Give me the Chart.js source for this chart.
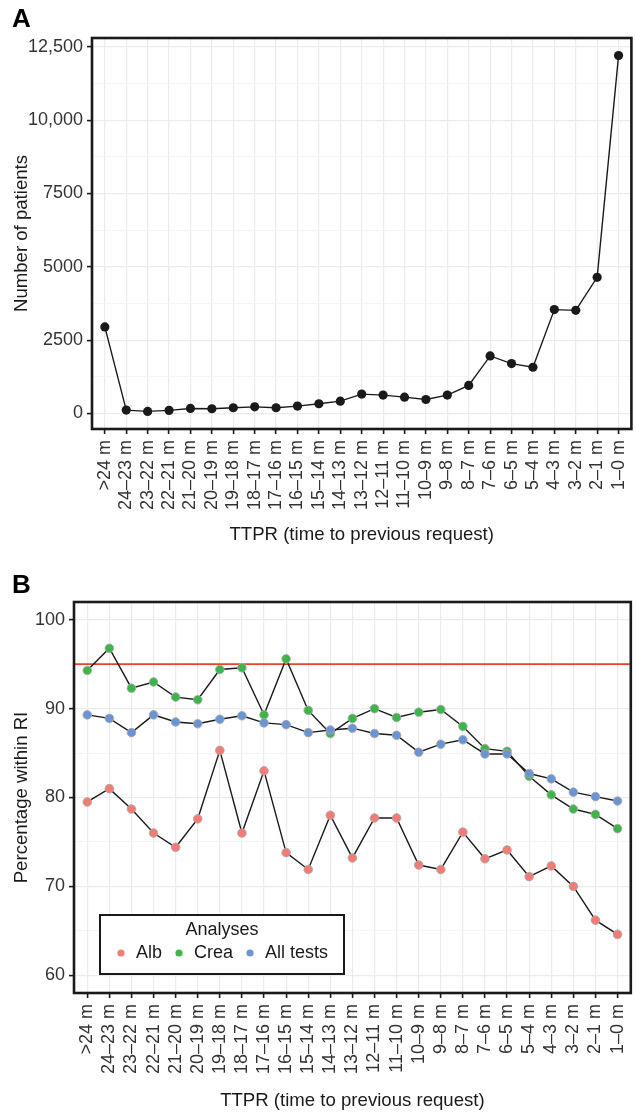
<!DOCTYPE html>
<html>
<head>
<meta charset="utf-8">
<script src="https://cdn.jsdelivr.net/npm/chart.js@4"></script>
<style>
  body { margin: 0; background: #fff; }
  canvas { display: block; }
</style>
</head>
<body>
<canvas id="chartA" width="636" height="556"></canvas>
<canvas id="chartB" width="636" height="556"></canvas>
<script>
const intervals = ["\u003e24 m", "24–23 m", "23–22 m", "22–21 m", "21–20 m", "20–19 m", "19–18 m",
  "18–17 m", "17–16 m", "16–15 m", "15–14 m", "14–13 m", "13–12 m", "12–11 m", "11–10 m",
  "10–9 m", "9–8 m", "8–7 m", "7–6 m", "6–5 m", "5–4 m", "4–3 m", "3–2 m", "2–1 m", "1–0 m"];

const patients = [2950, 115, 70, 105, 170, 160, 195, 225, 195, 250, 330, 420, 660, 625, 555,
  475, 625, 955, 1960, 1700, 1575, 3540, 3515, 4640, 12200];

const alb = [79.5, 81.0, 78.7, 76.0, 74.4, 77.6, 85.3, 76.0, 83.0, 73.8, 71.9, 78.0, 73.2,
  77.7, 77.7, 72.4, 71.9, 76.1, 73.1, 74.1, 71.1, 72.3, 70.0, 66.2, 64.6];
const crea = [94.3, 96.8, 92.3, 93.0, 91.3, 91.0, 94.4, 94.6, 89.3, 95.6, 89.8, 87.2, 88.9,
  90.0, 89.0, 89.6, 89.9, 88.0, 85.5, 85.2, 82.4, 80.3, 78.7, 78.1, 76.5];
const allTests = [89.3, 88.9, 87.3, 89.3, 88.5, 88.3, 88.8, 89.2, 88.4, 88.2, 87.3, 87.6, 87.8,
  87.2, 87.0, 85.1, 86.0, 86.5, 84.9, 84.9, 82.7, 82.1, 80.6, 80.1, 79.6];

const patientTicks = [0, 1250, 2500, 3750, 5000, 6250, 7500, 8750, 10000, 11250, 12500];
const pctTicks = [60, 65, 70, 75, 80, 85, 90, 95, 100];
const riTarget = 95;

const FONT = "'Liberation Sans', Arial, Helvetica, sans-serif";
const INK = "#1a1a1a";
const TICK_TEXT = "#333333";

const toPoints = (arr) => arr.map((v, i) => ({ x: i, y: v }));

// black frame round the panel + the panel letter
const panelPlugin = {
  id: "panel",
  afterDraw(chart, args, opts) {
    const { ctx, chartArea: a } = chart;
    ctx.save();
    ctx.strokeStyle = INK;
    ctx.lineWidth = 2.6;
    ctx.strokeRect(a.left, a.top, a.right - a.left, a.bottom - a.top);
    ctx.fillStyle = "#000";
    ctx.font = "bold 26px " + FONT;
    ctx.textBaseline = "alphabetic";
    ctx.fillText(opts.letter, 12, opts.letterY);
    ctx.restore();
  },
};

const refLinePlugin = {
  id: "refLine",
  beforeDatasetsDraw(chart) {
    const { ctx, chartArea: a, scales } = chart;
    const y = scales.y.getPixelForValue(riTarget);
    ctx.save();
    ctx.strokeStyle = "#e8432f";
    ctx.lineWidth = 1.8;
    ctx.beginPath();
    ctx.moveTo(a.left, y);
    ctx.lineTo(a.right, y);
    ctx.stroke();
    ctx.restore();
  },
};

const boxLegendPlugin = {
  id: "boxLegend",
  afterDraw(chart) {
    const { ctx, chartArea: a } = chart;
    const left = a.left + 26, top = a.bottom - 78, w = 244, h = 59;
    ctx.save();
    ctx.fillStyle = "#fff";
    ctx.fillRect(left, top, w, h);
    ctx.strokeStyle = INK;
    ctx.lineWidth = 2;
    ctx.strokeRect(left, top, w, h);
    ctx.font = "18px " + FONT;
    ctx.fillStyle = INK;
    ctx.textBaseline = "middle";
    ctx.textAlign = "center";
    ctx.fillText("Analyses", left + w / 2, top + 15);
    ctx.textAlign = "left";
    let x = left + 21;
    const y = top + 38;
    chart.data.datasets.forEach((ds) => {
      ctx.beginPath();
      ctx.arc(x, y, 3.6, 0, Math.PI * 2);
      ctx.fillStyle = ds.pointBackgroundColor;
      ctx.fill();
      ctx.fillStyle = INK;
      ctx.fillText(ds.label, x + 15, y);
      x += 15 + ctx.measureText(ds.label).width + 17;
    });
    ctx.restore();
  },
};

function xScale(titleBottomPad, height) {
  return {
    type: "linear",
    min: -0.6,
    max: intervals.length - 1 + 0.6,
    afterBuildTicks: (s) => { s.ticks = intervals.map((_, i) => ({ value: i })); },
    afterFit: (s) => { s.height = height; s.paddingLeft = 0; s.paddingRight = 0; },
    ticks: {
      callback: (v) => intervals[v],
      autoSkip: false,
      minRotation: 90,
      maxRotation: 90,
      padding: 6,
      color: TICK_TEXT,
      font: { family: FONT, size: 18 },
    },
    grid: { color: "#ebebeb", lineWidth: 1.2, tickColor: INK, tickLength: 5, tickWidth: 1.6 },
    border: { display: false },
    title: {
      display: true,
      text: "TTPR (time to previous request)",
      color: INK,
      font: { family: FONT, size: 18.6 },
      padding: { top: 4, bottom: titleBottomPad },
    },
  };
}

function yScale(min, max, tickVals, major, fmt, width, title) {
  const isMajor = (v) => Math.abs(v % major) < 1e-6;
  return {
    min, max,
    afterBuildTicks: (s) => { s.ticks = tickVals.map((v) => ({ value: v })); },
    afterFit: (s) => { s.width = width; s.paddingTop = 0; s.paddingBottom = 0; },
    ticks: {
      callback: (v) => (isMajor(v) ? fmt(v) : ""),
      padding: 4,
      color: TICK_TEXT,
      font: { family: FONT, size: 18 },
    },
    grid: {
      color: (c) => (isMajor(c.tick.value) ? "#ebebeb" : "#f2f2f2"),
      lineWidth: (c) => (isMajor(c.tick.value) ? 1.2 : 0.8),
      tickColor: (c) => (isMajor(c.tick.value) ? INK : "rgba(0,0,0,0)"),
      tickLength: 5,
      tickWidth: 1.6,
    },
    border: { display: false },
    title: {
      display: true,
      text: title,
      color: INK,
      font: { family: FONT, size: 18.6 },
      padding: { top: 11, bottom: 4 },
    },
  };
}

new Chart(document.getElementById("chartA"), {
  type: "line",
  data: {
    datasets: [{
      label: "Patients",
      data: toPoints(patients),
      borderColor: INK,
      borderWidth: 1.4,
      pointRadius: 4.6,
      pointBackgroundColor: INK,
      pointBorderWidth: 0,
      tension: 0,
    }],
  },
  options: {
    responsive: false,
    animation: false,
    layout: { padding: { top: 38, right: 3, left: 0, bottom: 6 } },
    scales: {
      x: xScale(4, 121),
      y: yScale(-530, 12800, patientTicks, 2500,
        (v) => (v >= 10000 ? v.toLocaleString("en-US") : String(v)), 92, "Number of patients"),
    },
    plugins: { legend: { display: false }, tooltip: { enabled: false }, panel: { letter: "A", letterY: 27 } },
  },
  plugins: [panelPlugin],
});

const series = [
  { label: "Alb", values: alb, color: "#f47c74", order: 3 },
  { label: "Crea", values: crea, color: "#3db54a", order: 2 },
  { label: "All tests", values: allTests, color: "#6a94d4", order: 1 },
];

new Chart(document.getElementById("chartB"), {
  type: "line",
  data: {
    datasets: series.map((s) => ({
      label: s.label,
      data: toPoints(s.values),
      order: s.order,
      borderColor: INK,
      borderWidth: 1.4,
      pointRadius: 4.3,
      pointBackgroundColor: s.color,
      pointBorderColor: "#a9a9a9",
      pointBorderWidth: 0.9,
      tension: 0,
    })),
  },
  options: {
    responsive: false,
    animation: false,
    layout: { padding: { top: 46, right: 3, left: 0, bottom: 0 } },
    scales: {
      x: xScale(0, 119),
      y: yScale(58, 102, pctTicks, 10, (v) => String(v), 74, "Percentage within RI"),
    },
    plugins: { legend: { display: false }, tooltip: { enabled: false }, panel: { letter: "B", letterY: 37 } },
  },
  plugins: [refLinePlugin, panelPlugin, boxLegendPlugin],
});
</script>
</body>
</html>
